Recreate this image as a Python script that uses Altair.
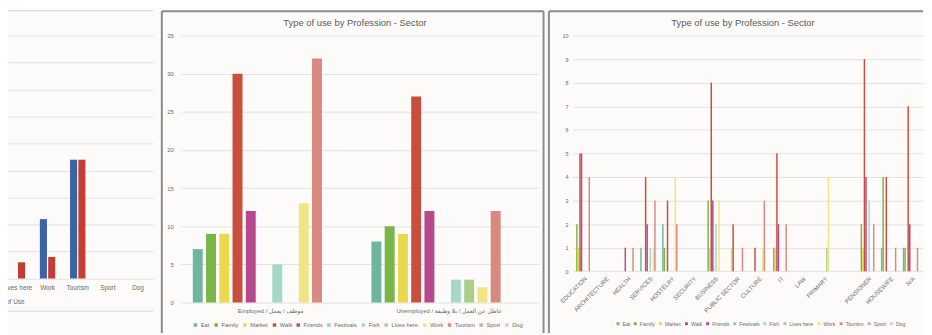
import altair as alt
import pandas as pd

FONT = "Liberation Sans, DejaVu Sans, sans-serif"
BG = "#fcfbf9"
FRAME = "#8b8b8b"
GRID = "#e2e2e2"
LABEL = "#6a6a6a"
TITLE = "Type of use by Profession - Sector"

# ---------------- data ----------------
# left (cropped) chart
p1_categories = ["Lives here", "Work", "Tourism", "Sport", "Dog"]
p1_series = ["Series 1", "Series 2"]
p1_series1 = [0, 11, 22, 0, 0]
p1_series2 = [3, 4, 22, 0, 0]
p1_colors = ["#3a63a8", "#c43d35"]

# type of use (shared by the two framed charts)
uses = ["Eat", "Family", "Market", "Walk", "Friends", "Festivals", "Fish",
        "Lives here", "Work", "Tourism", "Sport", "Dog"]
use_colors = ["#6fb6a1", "#7ab548", "#ebd84c", "#c84f3d", "#b6488d", "#8fc6d6",
              "#a7d6ca", "#a9cf88", "#f1e583", "#d98a80", "#e39fa9", "#edc4be"]

# middle chart
p2_groups = ["Employed / موظف / يعمل", "Unemployed / عاطل عن العمل / بلا وظيفة"]
p2_employed = [7, 9, 9, 30, 12, 0, 5, 0, 13, 32, 0, 0]
p2_unemployed = [8, 10, 9, 27, 12, 0, 3, 3, 2, 12, 0, 0]

# right chart
p3_sectors = ["EDUCATION", "ARCHITECTURE", "HEALTH", "SERVICES", "HOSTELRY",
              "SECURITY", "BUSINESS", "PUBLIC SECTOR", "CULTURE", "IT", "LAW",
              "PRIMARY", " ", "PENSIONER", "HOUSEWIFE", "N/A"]
p3_eat =        [0, 0, 0, 1, 2, 0, 0, 0, 0, 0, 0, 0, 0, 0, 1, 1]
p3_family =     [2, 0, 0, 0, 1, 0, 3, 0, 0, 1, 0, 0, 0, 2, 4, 1]
p3_market =     [1, 0, 0, 0, 0, 0, 1, 1, 0, 1, 0, 0, 0, 1, 0, 0]
p3_walk =       [5, 0, 0, 4, 3, 0, 8, 2, 1, 5, 0, 0, 0, 9, 4, 7]
p3_friends =    [5, 0, 1, 2, 0, 0, 3, 0, 0, 2, 0, 0, 0, 4, 0, 2]
p3_festivals =  [0, 0, 0, 0, 0, 0, 0, 0, 0, 0, 0, 0, 0, 0, 0, 0]
p3_fish =       [0, 0, 0, 1, 0, 0, 2, 0, 0, 0, 0, 0, 0, 3, 0, 0]
p3_lives_here = [0, 0, 0, 0, 0, 0, 0, 0, 0, 0, 0, 1, 0, 0, 0, 0]
p3_work =       [0, 0, 0, 1, 4, 0, 3, 0, 1, 0, 0, 4, 0, 0, 0, 0]
p3_tourism =    [4, 0, 1, 3, 2, 0, 0, 1, 3, 2, 0, 0, 0, 2, 1, 1]
p3_sport =      [0, 0, 0, 0, 0, 0, 0, 0, 0, 0, 0, 0, 0, 0, 0, 0]
p3_dog =        [0, 0, 0, 0, 0, 0, 0, 0, 0, 0, 0, 0, 0, 0, 0, 0]
p3_by_use = [p3_eat, p3_family, p3_market, p3_walk, p3_friends, p3_festivals,
             p3_fish, p3_lives_here, p3_work, p3_tourism, p3_sport, p3_dog]

# ---------------- tables ----------------
df1 = pd.DataFrame({
    "category": p1_categories * 2,
    "series": [p1_series[0]] * len(p1_categories) + [p1_series[1]] * len(p1_categories),
    "value": p1_series1 + p1_series2,
})
df2 = pd.DataFrame({
    "group": [p2_groups[0]] * len(uses) + [p2_groups[1]] * len(uses),
    "use": uses * 2,
    "value": p2_employed + p2_unemployed,
})
rows3 = []
for u, vals in zip(uses, p3_by_use):
    for s, v in zip(p3_sectors, vals):
        rows3.append({"sector": s, "use": u, "value": v})
df3 = pd.DataFrame(rows3)

one = pd.DataFrame({"k": [0]})


def hrule(x, x2, y, color, width):
    return alt.Chart(one).mark_rule(color=color, strokeWidth=width).encode(
        x=alt.value(x), x2=alt.value(x2), y=alt.value(y))


def vrule(x, y, y2, color, width):
    return alt.Chart(one).mark_rule(color=color, strokeWidth=width).encode(
        x=alt.value(x), y=alt.value(y), y2=alt.value(y2))


def title_layer(x, y):
    return alt.Chart(pd.DataFrame({"t": [TITLE]})).mark_text(
        fontSize=9.5, color="#5a5a5a", align="center", baseline="middle", font=FONT
    ).encode(text="t:N", x=alt.value(x), y=alt.value(y))


def band_width(width, n, inner, outer):
    step = width / (n - inner + 2 * outer)
    return step * (1 - inner)


# ---------------- panel 1 ----------------
W1, H1 = 152.5, 245.7
p1_pi, p1_po = 0.49, 0.245
bw1 = band_width(W1, len(p1_categories), p1_pi, p1_po)
bars1 = alt.Chart(df1).mark_bar().encode(
    x=alt.X("category:N", sort=p1_categories,
            scale=alt.Scale(domain=p1_categories, paddingInner=p1_pi, paddingOuter=p1_po),
            axis=alt.Axis(title="Type of Use", labelAngle=0, labelFontSize=6.5, labelColor=LABEL,
                          labelPadding=6, domain=False, ticks=False, tickSize=0,
                          titleFontSize=6.5, titleFontWeight="normal", titleColor=LABEL,
                          titleAlign="right", titleX=22, titleY=23, titleBaseline="middle")),
    xOffset=alt.XOffset("series:N", sort=p1_series,
                        scale=alt.Scale(domain=p1_series, range=[0, bw1],
                                        paddingInner=0.15, paddingOuter=0)),
    y=alt.Y("value:Q", scale=alt.Scale(domain=[0, 45]),
            axis=alt.Axis(values=list(range(0, 50, 5)), grid=True, gridColor=GRID, labels=False,
                          domain=False, ticks=False, title=None)),
    color=alt.Color("series:N", scale=alt.Scale(domain=p1_series, range=p1_colors), legend=None),
)
panel1 = alt.layer(
    bars1,
    hrule(-60, W1, -25, "#cfcfcf", 1),
    hrule(W1, W1 + 4.75, -25, BG, 1),
    hrule(-60, W1, 278.7, "#d8d8d8", 1),
).properties(width=W1, height=H1)

# ---------------- panel 2 ----------------
W2, H2 = 361.3, 270
p2_pi, p2_po = 0.11, 0.055
bw2 = band_width(W2, len(p2_groups), p2_pi, p2_po)
bars2 = alt.Chart(df2).mark_bar().encode(
    x=alt.X("group:N", sort=p2_groups,
            scale=alt.Scale(domain=p2_groups, paddingInner=p2_pi, paddingOuter=p2_po),
            axis=alt.Axis(title=None, labelAngle=0, labelFontSize=6, labelColor=LABEL,
                          labelPadding=5, domain=False, ticks=False, tickSize=0)),
    xOffset=alt.XOffset("use:N", sort=uses,
                        scale=alt.Scale(domain=uses, range=[0, bw2],
                                        paddingInner=0.25, paddingOuter=0.125)),
    y=alt.Y("value:Q", scale=alt.Scale(domain=[0, 35]),
            axis=alt.Axis(values=list(range(0, 40, 5)), title=None, grid=True, gridColor=GRID,
                          domain=False, ticks=False, tickSize=0, labelFontSize=6,
                          labelColor=LABEL, labelPadding=8)),
    color=alt.Color("use:N", sort=uses, scale=alt.Scale(domain=uses, range=use_colors),
                    legend=alt.Legend(orient="none", legendX=11.3, legendY=289.7,
                                      direction="horizontal", columns=12, title=None,
                                      symbolType="square", symbolSize=12, symbolStrokeWidth=0,
                                      labelFontSize=5.8, labelColor=LABEL, columnPadding=3,
                                      labelOffset=2.5)),
)
panel2 = alt.layer(
    bars2,
    title_layer(W2 / 2 - 5, -12.6),
    vrule(-19.7, -24.5, 300.7, FRAME, 2),
    hrule(-19.7, W2 + 5, -24.5, FRAME, 2),
    vrule(W2 + 5, -24.5, 300.7, FRAME, 2),
).properties(width=W2, height=H2)

# ---------------- panel 3 ----------------
W3, H3 = 354, 238.4
p3_pi, p3_po = 0.15, 0.075
bw3 = band_width(W3, len(p3_sectors), p3_pi, p3_po)
bars3 = alt.Chart(df3).mark_bar().encode(
    x=alt.X("sector:N", sort=p3_sectors,
            scale=alt.Scale(domain=p3_sectors, paddingInner=p3_pi, paddingOuter=p3_po),
            axis=alt.Axis(title=None, labelAngle=-45, labelFontSize=6, labelColor=LABEL,
                          labelPadding=4, domain=False, ticks=False, tickSize=0,
                          labelOverlap=False)),
    xOffset=alt.XOffset("use:N", sort=uses,
                        scale=alt.Scale(domain=uses, range=[0, bw3],
                                        paddingInner=0.05, paddingOuter=0.02)),
    y=alt.Y("value:Q", scale=alt.Scale(domain=[0, 10]),
            axis=alt.Axis(values=list(range(0, 11)), title=None, grid=True, gridColor=GRID,
                          domain=False, ticks=False, tickSize=0, labelFontSize=5.5,
                          labelColor=LABEL, labelPadding=5)),
    color=alt.Color("use:N", sort=uses, scale=alt.Scale(domain=uses, range=use_colors),
                    legend=alt.Legend(orient="none", legendX=43, legendY=288.7,
                                      direction="horizontal", columns=12, title=None,
                                      symbolType="square", symbolSize=9, symbolStrokeWidth=0,
                                      labelFontSize=5.2, labelColor=LABEL, columnPadding=2.4,
                                      labelOffset=2)),
)
panel3 = alt.layer(
    bars3,
    title_layer(W3 / 2 - 5, -12.6),
    vrule(-24.3, -24.5, 300.7, FRAME, 2),
    hrule(-24.3, W3, -24.5, FRAME, 2),
).properties(width=W3, height=H3)

chart = alt.hconcat(panel1, panel2, panel3, spacing=2).resolve_scale(
    color="independent", x="independent", y="independent", xOffset="independent"
).properties(
    padding={"left": -66.75, "top": 0, "right": 0, "bottom": 0},
    background=BG,
).configure(font=FONT).configure_view(strokeWidth=0)

chart.save("out.html", embed_options={"renderer": "svg", "actions": False})
